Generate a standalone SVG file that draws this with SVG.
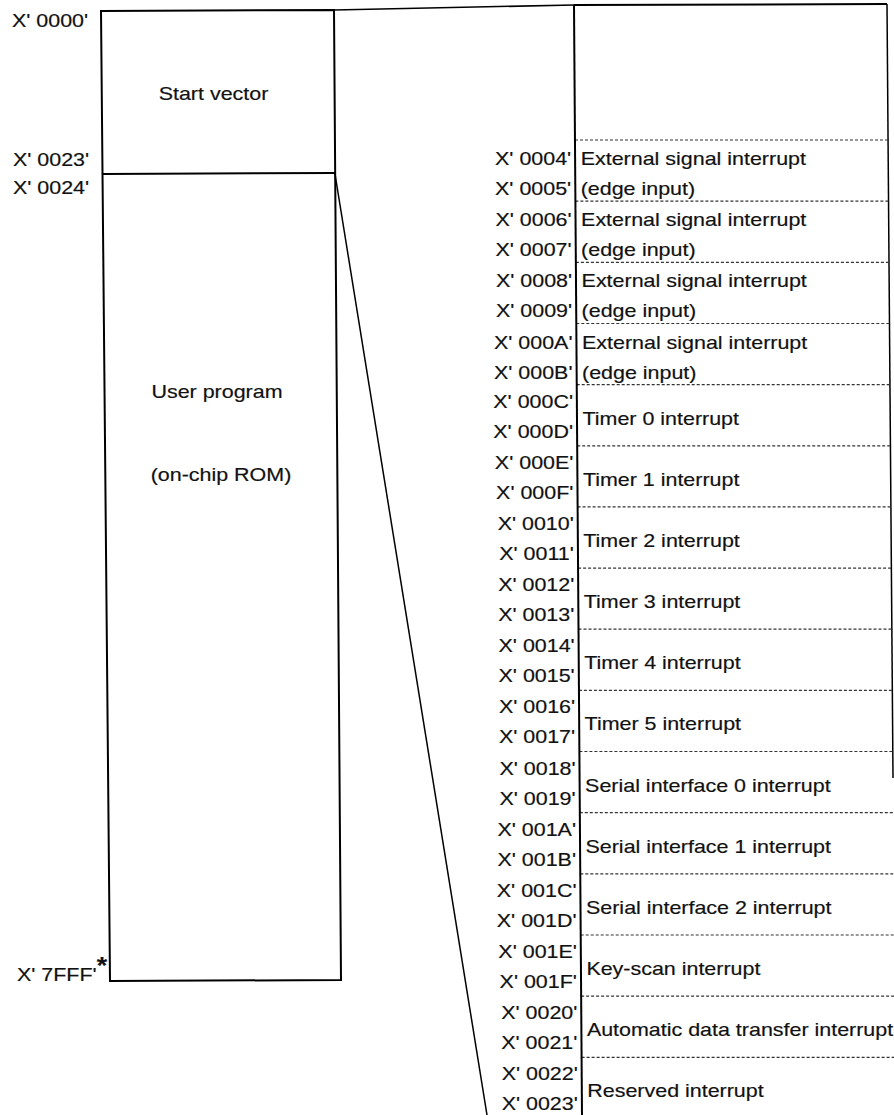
<svg xmlns="http://www.w3.org/2000/svg" width="894" height="1115" viewBox="0 0 894 1115">
<style>
.t{font-family:"Liberation Sans",Arial,sans-serif;font-size:18.5px;fill:#111;stroke:#111;stroke-width:0.18}
.e{text-anchor:end}
.m{text-anchor:middle}
.solid{stroke:#000;stroke-width:2;fill:none}
.thin{stroke:#000;stroke-width:1.5;fill:none}
.dash{stroke:#333;stroke-width:1.2;stroke-dasharray:3 2;fill:none}
</style>
<rect width="894" height="1115" fill="#fff"/>

<g id="memory-map">
  <polygon class="solid" points="101,11 334,10 341,980 110,981"/>
  <line class="solid" x1="102.5" y1="174" x2="335" y2="173"/>
  <text class="t m" transform="translate(213.5,100) scale(1.16,1)">Start vector</text>
  <text class="t m" transform="translate(217,398) scale(1.16,1)">User program</text>
  <text class="t m" transform="translate(221,481) scale(1.16,1)">(on-chip ROM)</text>
  <text class="t" transform="translate(12,27) scale(1.16,1)">X' 0000'</text>
  <text class="t" transform="translate(13,166) scale(1.16,1)">X' 0023'</text>
  <text class="t" transform="translate(13,194) scale(1.16,1)">X' 0024'</text>
  <text class="t" transform="translate(17,981) scale(1.16,1)">X' 7FFF'<tspan dy="-7" font-size="23" font-weight="bold">*</tspan></text>
</g>

<g id="connectors">
  <line class="thin" x1="334" y1="10" x2="574" y2="5"/>
  <line class="thin" x1="335" y1="174" x2="487" y2="1115"/>
</g>

<g id="vector-table">
  <line class="solid" x1="574" y1="5" x2="887" y2="4"/>
  <line class="thin" x1="887" y1="4" x2="893" y2="778"/>
  <line class="dash" x1="575.0" y1="140" x2="888.0" y2="140"/>
  <line class="dash" x1="575.4" y1="201.2" x2="888.5" y2="201.2"/>
  <line class="dash" x1="575.9" y1="262.3" x2="889.0" y2="262.3"/>
  <line class="dash" x1="576.3" y1="323.5" x2="889.5" y2="323.5"/>
  <line class="dash" x1="576.7" y1="384.6" x2="890.0" y2="384.6"/>
  <line class="dash" x1="577.2" y1="445.8" x2="890.4" y2="445.8"/>
  <line class="dash" x1="577.6" y1="506.9" x2="890.9" y2="506.9"/>
  <line class="dash" x1="578.1" y1="568.1" x2="891.4" y2="568.1"/>
  <line class="dash" x1="578.5" y1="629.2" x2="891.8" y2="629.2"/>
  <line class="dash" x1="578.9" y1="690.4" x2="892.3" y2="690.4"/>
  <line class="dash" x1="579.4" y1="751.5" x2="892.8" y2="751.5"/>
  <line class="dash" x1="579.8" y1="812.7" x2="894" y2="812.7"/>
  <line class="dash" x1="580.3" y1="873.8" x2="894" y2="873.8"/>
  <line class="dash" x1="580.7" y1="935" x2="894" y2="935"/>
  <line class="dash" x1="581.1" y1="996.1" x2="894" y2="996.1"/>
  <line class="dash" x1="581.6" y1="1057.3" x2="894" y2="1057.3"/>
  <line class="solid" x1="574" y1="5" x2="582" y2="1115"/>
</g>

<g id="v0004">
  <text class="t e" transform="translate(571.2,165) scale(1.16,1)">X' 0004'</text>
  <text class="t e" transform="translate(571.2,195) scale(1.16,1)">X' 0005'</text>
  <text class="t" transform="translate(580.7,165) scale(1.16,1)">External signal interrupt</text>
  <text class="t" transform="translate(580.7,195) scale(1.16,1)">(edge input)</text>
</g>
<g id="v0006">
  <text class="t e" transform="translate(571.6,226.2) scale(1.16,1)">X' 0006'</text>
  <text class="t e" transform="translate(571.6,256.2) scale(1.16,1)">X' 0007'</text>
  <text class="t" transform="translate(581.1,226.2) scale(1.16,1)">External signal interrupt</text>
  <text class="t" transform="translate(581.1,256.2) scale(1.16,1)">(edge input)</text>
</g>
<g id="v0008">
  <text class="t e" transform="translate(572.1,287.3) scale(1.16,1)">X' 0008'</text>
  <text class="t e" transform="translate(572.1,317.3) scale(1.16,1)">X' 0009'</text>
  <text class="t" transform="translate(581.6,287.3) scale(1.16,1)">External signal interrupt</text>
  <text class="t" transform="translate(581.6,317.3) scale(1.16,1)">(edge input)</text>
</g>
<g id="v000A">
  <text class="t e" transform="translate(572.5,348.5) scale(1.16,1)">X' 000A'</text>
  <text class="t e" transform="translate(572.5,378.5) scale(1.16,1)">X' 000B'</text>
  <text class="t" transform="translate(582,348.5) scale(1.16,1)">External signal interrupt</text>
  <text class="t" transform="translate(582,378.5) scale(1.16,1)">(edge input)</text>
</g>
<g id="v000C">
  <text class="t e" transform="translate(573,407.6) scale(1.16,1)">X' 000C'</text>
  <text class="t e" transform="translate(573,437.6) scale(1.16,1)">X' 000D'</text>
  <text class="t" transform="translate(582.5,424.6) scale(1.16,1)">Timer 0 interrupt</text>
</g>
<g id="v000E">
  <text class="t e" transform="translate(573.4,468.8) scale(1.16,1)">X' 000E'</text>
  <text class="t e" transform="translate(573.4,498.8) scale(1.16,1)">X' 000F'</text>
  <text class="t" transform="translate(582.9,485.8) scale(1.16,1)">Timer 1 interrupt</text>
</g>
<g id="v0010">
  <text class="t e" transform="translate(573.8,529.9) scale(1.16,1)">X' 0010'</text>
  <text class="t e" transform="translate(573.8,559.9) scale(1.16,1)">X' 0011'</text>
  <text class="t" transform="translate(583.3,546.9) scale(1.16,1)">Timer 2 interrupt</text>
</g>
<g id="v0012">
  <text class="t e" transform="translate(574.3,591.1) scale(1.16,1)">X' 0012'</text>
  <text class="t e" transform="translate(574.3,621.1) scale(1.16,1)">X' 0013'</text>
  <text class="t" transform="translate(583.8,608.1) scale(1.16,1)">Timer 3 interrupt</text>
</g>
<g id="v0014">
  <text class="t e" transform="translate(574.7,652.2) scale(1.16,1)">X' 0014'</text>
  <text class="t e" transform="translate(574.7,682.2) scale(1.16,1)">X' 0015'</text>
  <text class="t" transform="translate(584.2,669.2) scale(1.16,1)">Timer 4 interrupt</text>
</g>
<g id="v0016">
  <text class="t e" transform="translate(575.1,713.4) scale(1.16,1)">X' 0016'</text>
  <text class="t e" transform="translate(575.1,743.4) scale(1.16,1)">X' 0017'</text>
  <text class="t" transform="translate(584.6,730.4) scale(1.16,1)">Timer 5 interrupt</text>
</g>
<g id="v0018">
  <text class="t e" transform="translate(575.6,774.5) scale(1.16,1)">X' 0018'</text>
  <text class="t e" transform="translate(575.6,804.5) scale(1.16,1)">X' 0019'</text>
  <text class="t" transform="translate(585.1,791.5) scale(1.16,1)">Serial interface 0 interrupt</text>
</g>
<g id="v001A">
  <text class="t e" transform="translate(576,835.7) scale(1.16,1)">X' 001A'</text>
  <text class="t e" transform="translate(576,865.7) scale(1.16,1)">X' 001B'</text>
  <text class="t" transform="translate(585.5,852.7) scale(1.16,1)">Serial interface 1 interrupt</text>
</g>
<g id="v001C">
  <text class="t e" transform="translate(576.5,896.8) scale(1.16,1)">X' 001C'</text>
  <text class="t e" transform="translate(576.5,926.8) scale(1.16,1)">X' 001D'</text>
  <text class="t" transform="translate(586,913.8) scale(1.16,1)">Serial interface 2 interrupt</text>
</g>
<g id="v001E">
  <text class="t e" transform="translate(576.9,958) scale(1.16,1)">X' 001E'</text>
  <text class="t e" transform="translate(576.9,988) scale(1.16,1)">X' 001F'</text>
  <text class="t" transform="translate(586.4,975) scale(1.16,1)">Key-scan interrupt</text>
</g>
<g id="v0020">
  <text class="t e" transform="translate(577.4,1019.1) scale(1.16,1)">X' 0020'</text>
  <text class="t e" transform="translate(577.4,1049.1) scale(1.16,1)">X' 0021'</text>
  <text class="t" transform="translate(586.9,1036.1) scale(1.16,1)">Automatic data transfer interrupt</text>
</g>
<g id="v0022">
  <text class="t e" transform="translate(577.8,1080.3) scale(1.16,1)">X' 0022'</text>
  <text class="t e" transform="translate(577.8,1110.3) scale(1.16,1)">X' 0023'</text>
  <text class="t" transform="translate(587.3,1097.3) scale(1.16,1)">Reserved interrupt</text>
</g>
</svg>
